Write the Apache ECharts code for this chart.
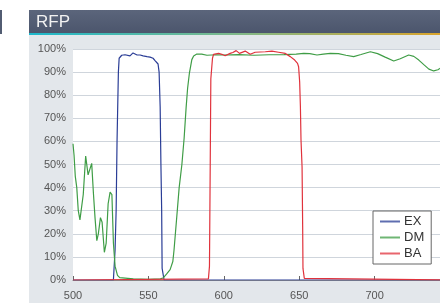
<!DOCTYPE html>
<html>
<head>
<meta charset="utf-8">
<script src="https://cdn.jsdelivr.net/npm/echarts@6/dist/echarts.min.js"></script>
<style>
  html, body { margin: 0; padding: 0; background: #fff; }
  #chart { width: 440px; height: 303px; }
</style>
</head>
<body>
<div id="chart"></div>
<script>
var titleText = 'RFP';
var seriesNames = ['EX', 'DM', 'BA'];
var xTicks = [500, 550, 600, 650, 700, 750];
var yTicks = [0, 10, 20, 30, 40, 50, 60, 70, 80, 90, 100];

var exWl = [500, 526.8, 527.9, 528.6, 529.2, 530.1, 530.6, 532.3, 533.2, 534.5, 535.7, 537.8, 539.8, 541, 542.5, 544.5, 546.5, 549.1, 551.1, 553.1, 554.4, 556.4, 557.1, 557.8, 558.3, 558.8, 559.1, 560.4, 750];
var exVal = [0, 0, 13, 30, 60, 90, 96, 97.3, 97, 97.5, 98.3, 97, 98.3, 97.8, 97.4, 97.4, 97, 96.7, 96.5, 96, 95, 93.5, 90, 75, 50, 30, 5, 0, 0];

var dmWl = [500, 500.7, 501.5, 502.5, 503.5, 504.6, 505.8, 506.8, 508.4, 510, 511.2, 512.4, 513.5, 514.6, 515.8, 516.8, 518.2, 519.3, 520.8, 522, 523.3, 524.6, 525.8, 526.8, 527.9, 529.5, 531, 540, 550, 558, 560, 562, 564.4, 566.2, 567, 568.9, 570.4, 572.2, 573.7, 575, 576, 577.2, 578.8, 580, 582.1, 585.4, 588.8, 595, 600, 610, 620, 630, 640, 648, 653, 657, 661.8, 666, 670.6, 676, 681, 686.1, 691, 697.2, 702, 707, 712.7, 717, 722.6, 726, 729.3, 733, 736, 739.2, 742, 744, 750];
var dmVal = [59, 54, 45, 40, 30, 26, 26, 37, 53.7, 45.5, 48, 50.5, 38, 27, 17, 20, 27, 25, 12, 16, 33, 38, 37, 16, 6, 2, 1, 0.5, 0.3, 0.5, 1, 2.5, 4.5, 8, 13, 28, 40, 50, 61.5, 74.5, 83, 89.6, 95.4, 97, 97.8, 97.8, 97.3, 97.5, 97.4, 97.6, 97.3, 97.5, 97.6, 97.8, 98.1, 98, 97.4, 97.8, 98.1, 98, 97.3, 96.7, 97.6, 98.8, 98, 96.5, 94.8, 95.8, 97.4, 96.8, 95.2, 93, 91.3, 90.5, 91, 91.9, 93];

var baWl = [500, 589.8, 590.5, 591, 591.4, 592.5, 593.2, 596.5, 598.7, 600.9, 604.2, 606, 608.2, 610.4, 614.2, 617.5, 620.8, 627.5, 631.9, 636.3, 640.8, 644.1, 647, 648.9, 649.6, 650.3, 650.8, 651.2, 651.9, 652.3, 652.5, 653.4, 654, 750];
var baVal = [0, 0.5, 6, 50, 87, 96, 97.7, 98.1, 97.7, 97.1, 98.1, 98.5, 99.3, 98.1, 99.1, 97.7, 98.6, 98.8, 99.1, 98.6, 98.1, 96.7, 95.2, 93.8, 92.3, 85.8, 75, 60.6, 49, 23, 5, 0.7, 0, 0];

var colors = ['#2a3d96', '#3f9d46', '#e0323c'];

function zip(a, b) {
  return a.map(function(v, i) { return [v, b[i]]; });
}

var font = '"Liberation Sans", Arial, sans-serif';
var chart = echarts.init(document.getElementById('chart'), null, { renderer: 'canvas' });

chart.setOption({
  animation: false,
  textStyle: { fontFamily: font },
  graphic: [
    { type: 'rect', z: -10, shape: { x: 29, y: 35, width: 411, height: 268 }, style: { fill: '#e3e7eb' } },
    { type: 'rect', z: -10, shape: { x: 0, y: 10, width: 2, height: 24 }, style: { fill: '#525c72' } },
    {
      type: 'rect', z: -10, shape: { x: 29, y: 10, width: 411, height: 24 },
      style: { fill: new echarts.graphic.LinearGradient(0, 0, 0, 1, [
        { offset: 0, color: '#5b657b' }, { offset: 1, color: '#4b556c' }
      ]) }
    },
    {
      type: 'rect', z: -10, shape: { x: 29, y: 33, width: 411, height: 2 },
      style: { fill: new echarts.graphic.LinearGradient(0, 0, 1, 0, [
        { offset: 0, color: '#1cb8cc' }, { offset: 0.5, color: '#7fb98a' }, { offset: 1, color: '#d9a42c' }
      ]) }
    },
    { type: 'text', left: 36, top: 14, style: { text: titleText, fill: '#f2f2f2', font: '17px ' + font } }
  ],
  grid: {
    left: 73, right: -10, top: 49, bottom: 23,
    outerBoundsMode: 'none', containLabel: false,
    show: true, backgroundColor: '#fff', borderWidth: 0
  },
  legend: {
    data: seriesNames,
    orient: 'vertical',
    left: 373, top: 211,
    padding: [3, 7, 3, 7],
    icon: 'rect',
    itemWidth: 20, itemHeight: 2, itemGap: 1,
    itemStyle: { opacity: 0.75 },
    backgroundColor: '#fff',
    borderColor: '#666', borderWidth: 1, borderRadius: 0,
    textStyle: { color: '#333', fontSize: 13, lineHeight: 15, fontFamily: font, padding: [0, 0, 0, -1] }
  },
  xAxis: {
    type: 'value',
    min: xTicks[0], max: xTicks[xTicks.length - 1], interval: 50,
    axisLine: { show: true, onZero: false, lineStyle: { color: '#888', width: 1 } },
    axisTick: { show: true, inside: true, length: 4, lineStyle: { color: '#666' } },
    axisLabel: { color: '#555', fontSize: 11, margin: 10, fontFamily: font, showMaxLabel: false },
    splitLine: { show: false }
  },
  yAxis: {
    type: 'value',
    min: yTicks[0], max: yTicks[yTicks.length - 1], interval: 10,
    axisLine: { show: false },
    axisTick: { show: false },
    axisLabel: { color: '#555', fontSize: 11, margin: 7, formatter: '{value}%', fontFamily: font },
    splitLine: { lineStyle: { color: '#cfd5dc', width: 1 } }
  },
  series: [
    { name: seriesNames[0], type: 'line', symbol: 'none', data: zip(exWl, exVal), lineStyle: { color: colors[0], width: 1.2 }, itemStyle: { color: colors[0] } },
    { name: seriesNames[1], type: 'line', symbol: 'none', data: zip(dmWl, dmVal), lineStyle: { color: colors[1], width: 1.2 }, itemStyle: { color: colors[1] } },
    { name: seriesNames[2], type: 'line', symbol: 'none', data: zip(baWl, baVal), lineStyle: { color: colors[2], width: 1.2 }, itemStyle: { color: colors[2] } }
  ]
});
</script>
</body>
</html>
